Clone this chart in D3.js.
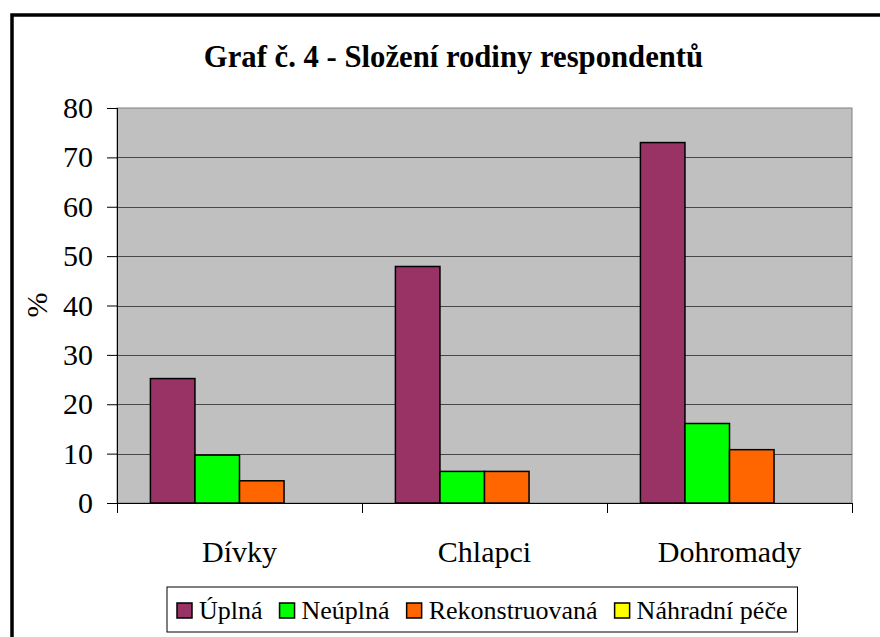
<!DOCTYPE html>
<html>
<head>
<meta charset="utf-8">
<script src="https://cdn.jsdelivr.net/npm/d3@7"></script>
<style>
  body { margin: 0; background: #fff; }
  svg { display: block; }
  svg text { font-family: "Liberation Serif", "Times New Roman", Times, serif; }
</style>
</head>
<body>
<svg id="chart" width="880" height="637"></svg>
<script>
var categories = ["Dívky", "Chlapci", "Dohromady"];
var series = ["Úplná", "Neúplná", "Rekonstruovaná", "Náhradní péče"];
var seriesColors = ["#993366", "#00ff00", "#ff6600", "#ffff00"];
// one array per series, values in %
var uplna = [25.2, 47.9, 73.0];
var neuplna = [9.7, 6.4, 16.1];
var rekonstruovana = [4.5, 6.4, 10.8];
var nahradniPece = [0, 0, 0];
var yTicks = [0, 10, 20, 30, 40, 50, 60, 70, 80];

var values = [uplna, neuplna, rekonstruovana, nahradniPece];

(function () {
  var svg = d3.select("#chart"),
      plotLeft = 117, plotTop = 108, plotW = 735, plotH = 395;

  // outer frame, cut off on the right and bottom like the picture
  svg.append("rect")
      .attr("x", 12).attr("y", 15)
      .attr("width", 920).attr("height", 700)
      .attr("fill", "#fff")
      .attr("stroke", "#000")
      .attr("stroke-width", 3.5);

  svg.append("text")
      .attr("x", 453.5).attr("y", 67)
      .attr("text-anchor", "middle")
      .style("font-size", "30.7px")
      .style("font-weight", "bold")
      .text("Graf č. 4 - Složení rodiny respondentů");

  var x0 = d3.scaleBand().domain(categories).range([0, plotW]);
  var x1 = d3.scaleBand().domain(series).range([0, x0.bandwidth()]).paddingInner(0).paddingOuter(0.75);
  var y = d3.scaleLinear().domain([0, 80]).range([plotH, 0]);

  var g = svg.append("g").attr("transform", "translate(" + plotLeft + "," + plotTop + ")");

  g.append("rect")
      .attr("width", plotW).attr("height", plotH)
      .attr("fill", "#c0c0c0")
      .attr("stroke", "#808080")
      .attr("stroke-width", 1);

  g.selectAll("line.grid")
    .data(yTicks.filter(function(d) { return d > 0 && d < 80; }))
    .enter().append("line")
      .attr("class", "grid")
      .attr("x1", 0).attr("x2", plotW)
      .attr("y1", function(d) { return Math.round(y(d)) + 0.5; })
      .attr("y2", function(d) { return Math.round(y(d)) + 0.5; })
      .attr("stroke", "#484848");

  // bars
  var groups = g.selectAll("g.cat")
    .data(categories)
    .enter().append("g")
      .attr("class", "cat")
      .attr("transform", function(d) { return "translate(" + x0(d) + ",0)"; });

  groups.selectAll("rect")
    .data(function(c, ci) {
      return series.map(function(s, si) { return { s: s, si: si, v: values[si][ci] }; })
        .filter(function(d) { return d.v > 0; });
    })
    .enter().append("rect")
      .attr("x", function(d) { return x1(d.s); })
      .attr("width", x1.bandwidth())
      .attr("y", function(d) { return y(d.v); })
      .attr("height", function(d) { return plotH - y(d.v); })
      .attr("fill", function(d) { return seriesColors[d.si]; })
      .attr("stroke", "#000")
      .attr("stroke-width", 1.5);

  // y axis
  var yAxis = d3.axisLeft(y).tickValues(yTicks).tickSize(10).tickPadding(14);
  var ya = g.append("g").call(yAxis);
  ya.attr("font-family", null).attr("font-size", null);
  ya.select(".domain").attr("stroke", "#000").attr("d", "M0.5,0V" + plotH);
  ya.selectAll(".tick line").attr("stroke", "#000");
  ya.selectAll(".tick text")
      .style("font-size", "30px")
      .attr("fill", "#000");

  // x axis
  var xa = g.append("g").attr("transform", "translate(0," + plotH + ")");
  xa.append("line").attr("x1", 0).attr("x2", plotW).attr("y1", 0.5).attr("y2", 0.5).attr("stroke", "#000");
  xa.selectAll("line.tick")
    .data(d3.range(categories.length + 1))
    .enter().append("line")
      .attr("class", "tick")
      .attr("x1", function(i) { return Math.round(i * x0.step()) + 0.5; })
      .attr("x2", function(i) { return Math.round(i * x0.step()) + 0.5; })
      .attr("y1", 0).attr("y2", 10)
      .attr("stroke", "#000");
  xa.selectAll("text")
    .data(categories)
    .enter().append("text")
      .attr("x", function(d) { return x0(d) + x0.bandwidth() / 2; })
      .attr("y", 59)
      .attr("text-anchor", "middle")
      .style("font-size", "30px")
      .text(function(d) { return d; });

  svg.append("text")
      .attr("transform", "translate(47,305) rotate(-90)")
      .attr("text-anchor", "middle")
      .style("font-size", "30px")
      .text("%");

  // legend
  var legend = svg.append("g");
  var box = legend.append("rect")
      .attr("y", 587).attr("height", 45)
      .attr("fill", "#fff").attr("stroke", "#000").attr("stroke-width", 1);
  var lx = 177;
  series.forEach(function(s, i) {
    legend.append("rect")
        .attr("x", lx).attr("y", 603)
        .attr("width", 15).attr("height", 15)
        .attr("fill", seriesColors[i])
        .attr("stroke", "#000").attr("stroke-width", 1.5);
    var t = legend.append("text")
        .attr("x", lx + 22).attr("y", 619)
        .style("font-size", "26px")
        .text(s);
    lx += 22 + t.node().getComputedTextLength() + 17;
  });
  box.attr("x", 167).attr("width", lx - 17 + 10 - 167);
})();
</script>
</body>
</html>
